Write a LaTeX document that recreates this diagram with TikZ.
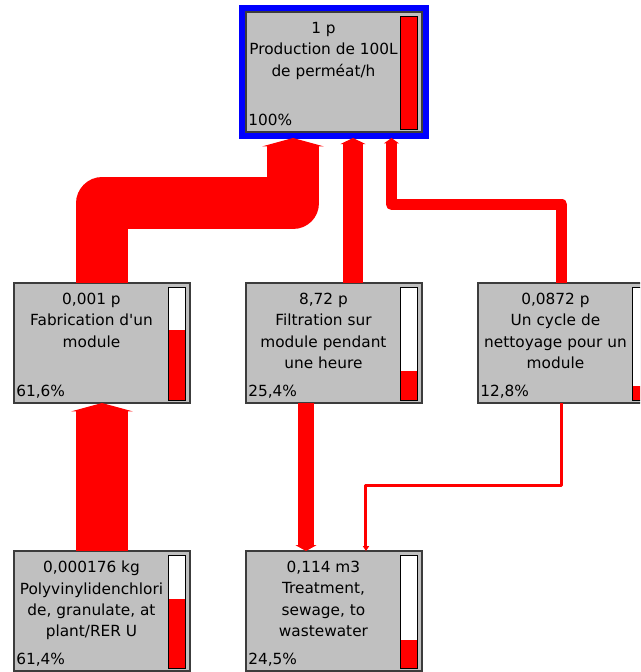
\documentclass[tikz,border=0pt]{standalone}
\usepackage{fontspec}
\setmainfont{DejaVu Sans}
\usepackage{xcolor}
\definecolor{BoxGrey}{RGB}{192,192,192}
\definecolor{EdgeGrey}{RGB}{60,60,60}
\definecolor{FlowRed}{RGB}{255,0,0}
\definecolor{SelBlue}{RGB}{0,0,255}
\usepackage{tikz}
\usetikzlibrary{arrows.meta,positioning}

\begin{document}
\begin{tikzpicture}[
  node distance=113.25pt and 42pt,
  proc/.style={rectangle, draw=EdgeGrey, line width=1pt, fill=BoxGrey,
               minimum width=132pt, minimum height=90pt,
               inner sep=0pt, outer sep=0pt},
  sel/.style={proc, preaction={draw=SelBlue, line width=10.5pt}},
  txt/.style={anchor=north, align=center, inner sep=0pt,
              font=\fontsize{11.5}{16}\selectfont},
  pct/.style={anchor=base west, inner sep=0pt,
              font=\fontsize{11.5}{16}\selectfont},
  gauge/.style={draw=black, line width=0.75pt},
  flow/.style={draw=FlowRed, line join=round,
               -{Triangle[length=3.5pt 0.07, width=2pt 1.12]}}
]
  \useasboundingbox (-250.5pt,54pt) rectangle (229.5pt,-450pt);
  \clip (-250.5pt,54pt) rectangle (229.5pt,-450pt);

  \node[sel] (top) {};
  \node[proc, below=of top] (filt) {};
  \node[proc, left=of filt] (fab) {};
  \node[proc, right=of filt] (cyc) {};
  \node[proc, below=111pt of fab] (pvdc) {};
  \node[proc, below=111pt of filt] (ww) {};

  \node[txt] (top-lbl) at ([xshift=-7.9pt,yshift=-7.5pt]top.north) {1 p\\Production de 100L\\de perméat/h};
  \node[txt] (fab-lbl) at ([xshift=-7.9pt,yshift=-7.5pt]fab.north) {0,001 p\\Fabrication d\textquotesingle un\\module};
  \node[txt] (filt-lbl) at ([xshift=-7.9pt,yshift=-7.5pt]filt.north) {8,72 p\\Filtration sur\\module pendant\\une heure};
  \node[txt] (cyc-lbl) at ([xshift=-7.9pt,yshift=-7.5pt]cyc.north) {0,0872 p\\Un cycle de\\nettoyage pour un\\module};
  \node[txt] (pvdc-lbl) at ([xshift=-7.9pt,yshift=-7.5pt]pvdc.north) {0,000176 kg\\Polyvinylidenchlori\\de, granulate, at\\plant/RER U};
  \node[txt] (ww-lbl) at ([xshift=-7.9pt,yshift=-7.5pt]ww.north) {0,114 m3\\Treatment,\\sewage, to\\wastewater};

  \node[pct] (top-pct) at ([xshift=1.5pt,yshift=5.25pt]top.south west) {100\%};
  \node[pct] (fab-pct) at ([xshift=1.5pt,yshift=5.25pt]fab.south west) {61,6\%};
  \node[pct] (filt-pct) at ([xshift=1.5pt,yshift=5.25pt]filt.south west) {25,4\%};
  \node[pct] (cyc-pct) at ([xshift=1.5pt,yshift=5.25pt]cyc.south west) {12,8\%};
  \node[pct] (pvdc-pct) at ([xshift=1.5pt,yshift=5.25pt]pvdc.south west) {61,4\%};
  \node[pct] (ww-pct) at ([xshift=1.5pt,yshift=5.25pt]ww.south west) {24,5\%};

  % share bars
  \foreach \n/\f in {top/1, fab/0.616, filt/0.254, cyc/0.128, pvdc/0.614, ww/0.245} {
    \fill[white] ([xshift=-15.75pt,yshift=-3pt]\n.north east) rectangle ([xshift=-3pt,yshift=2.25pt]\n.south east);
    \fill[FlowRed] ([xshift=-15.75pt,yshift=2.25pt]\n.south east) rectangle ([xshift=-3pt,yshift={2.25pt+\f*84.75pt}]\n.south east);
    \draw[gauge] ([xshift=-15.75pt,yshift=-3pt]\n.north east) rectangle ([xshift=-3pt,yshift=2.25pt]\n.south east);
  }

  \draw[flow, line width=39pt] (fab.north) |- ([xshift=-30.75pt,yshift=-53.6pt]top.south) -- ([xshift=-30.75pt,yshift=-4.5pt]top.south);
  \draw[flow, line width=15pt] ([xshift=14.25pt]filt.north) -- ([xshift=14.25pt,yshift=-4.5pt]top.south);
  \draw[flow, line width=8.25pt] ([xshift=-3pt]cyc.north) |- ([xshift=43.1pt,yshift=-54.4pt]top.south) -- ([xshift=43.1pt,yshift=-4.5pt]top.south);
  \draw[flow, line width=39pt] (pvdc.north) -- (fab.south);
  \draw[flow, line width=12pt] ([xshift=-21pt]filt.south) -- ([xshift=-21pt]ww.north);
  \draw[flow, line width=2.25pt] ([xshift=-3pt]cyc.south) -- ++(0,-61.5pt) -| ([xshift=24pt]ww.north);
\end{tikzpicture}
\end{document}
